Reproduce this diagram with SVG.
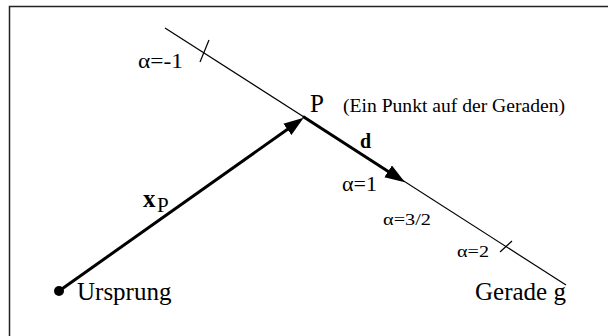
<svg xmlns="http://www.w3.org/2000/svg" width="608" height="336" viewBox="0 0 608 336">
<defs>
<style>
text{font-family:"Liberation Serif","Times New Roman",serif;fill:#000}
.big{font-size:25px}
.mid{font-size:19px}
.sm{font-size:20px}
.xs{font-size:17px}
.bold{font-weight:bold}
.thin{stroke:#000;stroke-width:1.2;fill:none}
.vec{stroke:#000;stroke-width:3;fill:none}
</style>
<marker id="head" markerUnits="userSpaceOnUse" markerWidth="22" markerHeight="16" refX="2" refY="7" orient="auto" viewBox="0 0 22 16">
<path d="M0,0 L20,7 L0,14 Z" fill="#000"/>
</marker>
</defs>
<rect x="9.5" y="6.5" width="620" height="340" fill="#fff" stroke="#222" stroke-width="1.5"/>
<g id="connectors">
<line id="gerade" class="thin" x1="165" y1="28" x2="566" y2="285"/>
<line id="tick1" class="thin" x1="200" y1="62" x2="209" y2="40"/>
<line id="tick2" class="thin" x1="500" y1="252" x2="512" y2="241"/>
<line id="xp" class="vec" x1="59" y1="291" x2="289" y2="128.2" marker-end="url(#head)"/>
<line id="dvec" class="vec" x1="303" y1="116.5" x2="389.8" y2="172.4" marker-end="url(#head)"/>
</g>
<g id="ursprung">
<circle cx="59" cy="291" r="5" fill="#000"/>
<text class="big" x="77" y="300">Ursprung</text>
</g>
<g id="punkt">
<text class="big" x="310" y="112">P</text>
<text class="mid" x="343" y="112" textLength="222" lengthAdjust="spacingAndGlyphs">(Ein Punkt auf der Geraden)</text>
</g>
<g id="label-xp">
<text class="bold" style="font-size:25px" x="143" y="207">x</text>
<text style="font-size:21px" x="157" y="212">P</text>
</g>
<g id="label-d">
<text class="bold" style="font-size:20px" x="360" y="148">d</text>
</g>
<g id="alphas">
<text class="sm" x="138" y="68" textLength="45" lengthAdjust="spacingAndGlyphs">α=-1</text>
<text class="sm" x="342" y="191" textLength="35" lengthAdjust="spacingAndGlyphs">α=1</text>
<text class="xs" x="383" y="225" textLength="48" lengthAdjust="spacingAndGlyphs">α=3/2</text>
<text class="xs" x="457" y="257" textLength="32" lengthAdjust="spacingAndGlyphs">α=2</text>
</g>
<g id="gerade-label">
<text class="big" x="475" y="300">Gerade g</text>
</g>
</svg>
